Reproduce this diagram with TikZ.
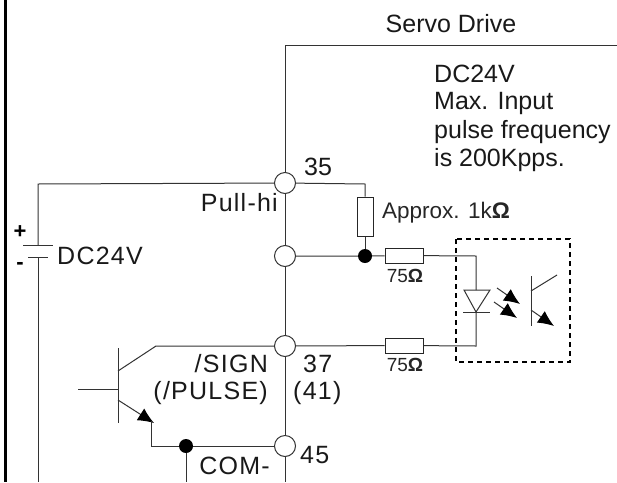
\documentclass[tikz,border=0pt]{standalone}
\usepackage{fontspec}
\setmainfont{Liberation Sans}
\newfontfamily\widefont[LetterSpace=5]{Liberation Sans}
\usetikzlibrary{arrows.meta}
\tikzset{
	wire/.style={line width=1pt, black!80},
	pin/.style={circle, draw=black!80, line width=1pt, fill=white, minimum size=21pt, inner sep=0pt},
	dot/.style={circle, fill=black, minimum size=14pt, inner sep=0pt},
	res/.style={rectangle, draw=black!85, line width=1pt, fill=white, inner sep=0pt},
	lbl/.style={inner sep=0pt, font=\fontsize{25}{25}\selectfont, text=black!90},
	widelbl/.style={inner sep=0pt, font=\fontsize{25}{25}\selectfont\widefont, text=black!90},
	small/.style={inner sep=0pt, font=\fontsize{19}{19}\selectfont, text=black!85},
	sign/.style={inner sep=0pt, font=\fontsize{22}{22}\selectfont\bfseries},
	tip/.style={-{Latex[length=16pt,width=14pt,black]}},
}
\begin{document}
\begin{tikzpicture}[x=1pt,y=-1pt]
		\useasboundingbox (0,0) rectangle (617,482);
		\fill[white] (0,0) rectangle (617,482);
		\coordinate (frameT) at (5,0);
		\coordinate (frameB) at (5,482);
		\draw[line width=3pt] (frameT) -- (frameB);
		% main bus
		\coordinate (busT) at (285,45.5);
		\coordinate (busR) at (617,45.5);
		\coordinate (busB) at (285,482);
		\draw[wire] (busR) -- (busT) -- (busB);
		% supply
		\coordinate (batL) at (38,184);
		\coordinate (batA) at (38,245);
		\coordinate (batB) at (38,257);
		\coordinate (batE) at (38,482);
		\coordinate (plusL) at (23,245);
		\coordinate (plusR) at (53,245);
		\coordinate (minusL) at (28,257);
		\coordinate (minusR) at (48,257);
		\node[pin] (p35) at (285,183) {};
		\node[pin] (pm) at (285,256) {};
		\node[pin] (p37) at (285,346) {};
		\node[pin] (p45) at (285,446) {};
		\draw[wire] (batA) -- (batL) -- (p35);
		\draw[wire] (batB) -- (batE);
		\draw[wire] (plusL) -- (plusR);
		\draw[wire] (minusL) -- (minusR);
		\node[widelbl] (dcl) at (100,256) {DC24V};
		\node[sign] (plus) at (20,232) {+};
		\node[sign] (minus) at (20,266) {-};
		% pull-up and series resistors
		\node[res, minimum width=16pt, minimum height=39pt] (r1k) at (365,216.5) {};
		\node[res, minimum width=38pt, minimum height=15pt] (r75a) at (404,255.5) {};
		\node[res, minimum width=38pt, minimum height=15pt] (r75b) at (404,345.5) {};
		\node[dot] (ja) at (365,256) {};
		\coordinate (topr) at (365,184);
		\draw[wire] (p35) -- (topr) -- (r1k);
		\draw[wire] (r1k) -- (ja);
		\draw[wire] (pm) -- (ja) -- (r75a);
		\draw[wire] (p37) -- (r75b);
		% opto coupler
		\coordinate (ledT) at (476,290);
		\coordinate (ledB) at (476,312);
		\coordinate (corA) at (476,256);
		\coordinate (corB) at (476,346);
		\draw[wire] (r75a) -- (corA) -- (ledT);
		\draw[wire] (r75b) -- (corB) -- (ledB);
		\draw[wire] (464,290) -- (490,290) -- (ledB) -- cycle;
		\draw[wire] (463,312) -- (490,312);
		\draw[wire, tip] (497,288) -- (520,304);
		\draw[wire, tip] (494,302) -- (517,318);
		\draw[wire] (531,276) -- (531,326);
		\draw[wire] (531,291) -- (557,275);
		\draw[wire, tip] (531,310) -- (554,326);
		\draw[line width=1.3pt, dash pattern=on 5pt off 4pt] (456,239) rectangle (570,362);
		% input transistor
		\coordinate (cKnee) at (156,346);
		\coordinate (bC) at (118,371);
		\coordinate (bE) at (118,400);
		\coordinate (eTip) at (154,423);
		\coordinate (eKnee) at (151,446);
		\coordinate (eUp) at (151,421);
		\coordinate (baseIn) at (78,389);
		\coordinate (baseBar) at (118,389);
		\coordinate (comB) at (186,482);
		\node[dot] (jb) at (186,446) {};
		\draw[wire] (118,348) -- (118,423);
		\draw[wire] (baseIn) -- (baseBar);
		\draw[wire] (bC) -- (cKnee) -- (p37);
		\draw[wire, tip] (bE) -- (eTip);
		\draw[wire] (eUp) -- (eKnee) -- (jb) -- (p45);
		\draw[wire] (jb) -- (comB);
		% labels
		\node[lbl] (sd) at (451,24) {Servo Drive};
		\node[lbl, anchor=west] (note1) at (434,74) {DC24V};
		\node[lbl, anchor=west] (note2) at (434,103) {Max. Input};
		\node[lbl, anchor=west] (note3) at (434,132) {pulse frequency};
		\node[lbl, anchor=west] (note4) at (434,160) {is 200Kpps.};
		\node[lbl, anchor=west] (n35) at (304,167) {35};
		\node[widelbl, anchor=east] (pull) at (278,203) {Pull-hi};
		\node[small, anchor=west, font=\fontsize{22.5}{22.5}\selectfont] (appr) at (382,213) {Approx. 1k\textbf{Ω}};
		\node[small] (l75a) at (405,276) {75\textbf{Ω}};
		\node[small] (l75b) at (405,365) {75\textbf{Ω}};
		\node[widelbl, anchor=east] (sign) at (268,364) {/SIGN};
		\node[widelbl, anchor=east] (puls) at (268,393) {(/PULSE)};
		\node[widelbl, anchor=west] (n37) at (303,364) {37};
		\node[widelbl, anchor=west] (n41) at (293,393) {(41)};
		\node[widelbl, anchor=west] (n45) at (300,455) {45};
		\node[widelbl, anchor=east] (com) at (270,466) {COM-};
		\end{tikzpicture}
\end{document}
